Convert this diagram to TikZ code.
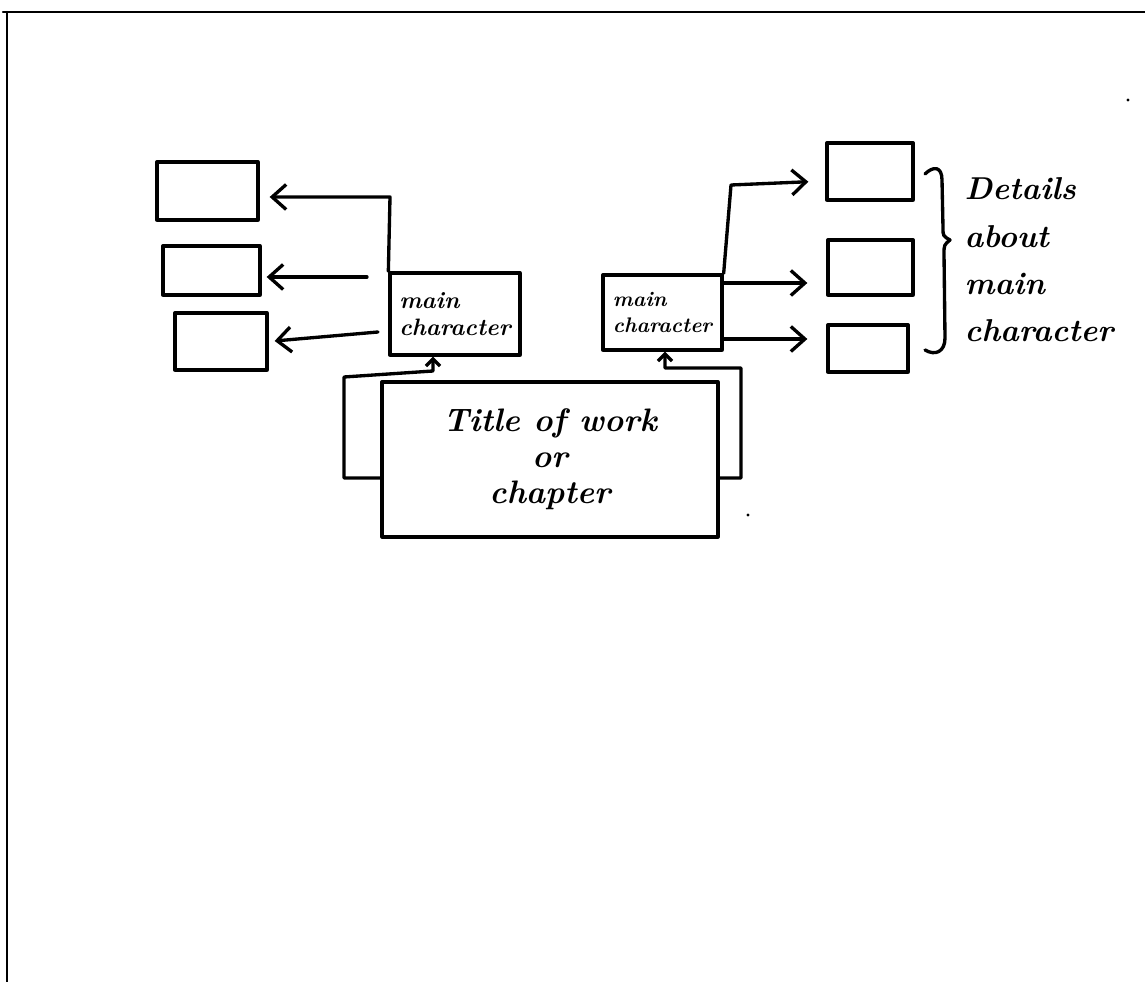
\documentclass[tikz,border=0pt]{standalone}
\usetikzlibrary{arrows.meta}
\begin{document}
\begin{tikzpicture}[x=0.02cm,y=-0.02cm,
  line width=1.9pt, line cap=round, line join=round,
  box/.style={draw, line width=1.9pt, inner sep=2pt},
  arr/.style={-{Straight Barb[length=0.28cm,width=0.5cm,line width=1.9pt]}},
  uparr/.style={-{Straight Barb[length=0.14cm,width=0.28cm,line width=1.9pt]}}]
\useasboundingbox (0,0) rectangle (1145,982);
% frame
\draw[line width=1.3pt] (3,12) -- (1145,12);
\draw[line width=1.3pt] (7,12) -- (7,982);
% detail boxes left
\node[box, minimum width=2.02cm, minimum height=1.16cm] (L1) at (207.5,191) {};
\node[box, minimum width=1.94cm, minimum height=0.98cm] (L2) at (211.5,270.5) {};
\node[box, minimum width=1.84cm, minimum height=1.14cm] (L3) at (221,341.5) {};
% main characters
\node[box, minimum width=2.6cm, minimum height=1.64cm, align=left,
      font=\bfseries\itshape\fontsize{13.5}{15.5}\selectfont] (ML) at (455,314) {main\\character};
\node[box, minimum width=2.38cm, minimum height=1.5cm, align=left,
      font=\bfseries\itshape\fontsize{12}{14.5}\selectfont] (MR) at (662.5,312.5) {main\\character};
% detail boxes right
\node[box, minimum width=1.72cm, minimum height=1.14cm] (R1) at (870,171.5) {};
\node[box, minimum width=1.70cm, minimum height=1.10cm] (R2) at (870.5,267.5) {};
\node[box, minimum width=1.60cm, minimum height=0.94cm] (R3) at (868,348.5) {};
% title
\node[box, minimum width=6.72cm, minimum height=3.1cm, align=center,
      font=\bfseries\itshape\fontsize{18.5}{20.5}\selectfont] (T) at (550,459.5) {Title of work\\or\\chapter};
% details label
\node[anchor=north west, align=left, inner sep=0pt,
      font=\bfseries\itshape\fontsize{18}{27}\selectfont] (det) at (963,176) {Details\\about\\main\\character};
% left arrows
\coordinate (lc1) at (390,197);
\draw[arr, shorten >=0.2cm] (ML.north west) -- (lc1) -- (L1.east |- lc1);
\coordinate (la2) at (367,277);
\draw[arr, shorten >=0.1cm] (la2) -- (L2.east |- la2);
\coordinate (la3) at (378,332);
\draw[arr, shorten >=0.12cm] (la3) -- (L3.east);
% right arrows
\coordinate (rc1) at (731,185);
\draw[arr, shorten >=0.34cm] (MR.north east) -- (rc1) -- (R1.west |- 810,181);
\coordinate (ra2) at (722,283);
\draw[arr, shorten >=0.38cm] (ra2) -- (R2.west |- ra2);
\coordinate (ra3) at (722,339);
\draw[arr, shorten >=0.38cm] (ra3) -- (R3.west |- ra3);
% title to main characters
\coordinate (tl1) at (344,478);
\coordinate (tl2) at (344,377);
\coordinate (tl3) at (433,371);
\draw[uparr] ([yshift=-0.37cm]T.west) -- (tl1) -- (tl2) -- (tl3) -- (ML.south -| tl3);
\coordinate (tr1) at (741,478);
\coordinate (tr2) at (741,368);
\coordinate (tr3) at (665,368);
\draw[uparr] ([yshift=-0.37cm]T.east) -- (tr1) -- (tr2) -- (tr3) -- (MR.south -| tr3);
% brace
\draw (925,174) .. controls (933,166) and (942,166) .. (942,180)
  -- (943,228) .. controls (943,236) .. (950,240)
  .. controls (944,245) .. (944,254) -- (945,338)
  .. controls (945,352) and (935,356) .. (925,350);
% specks
\fill (1128,100) circle (1.6);
\fill (748,515) circle (1.6);
\end{tikzpicture}
\end{document}
